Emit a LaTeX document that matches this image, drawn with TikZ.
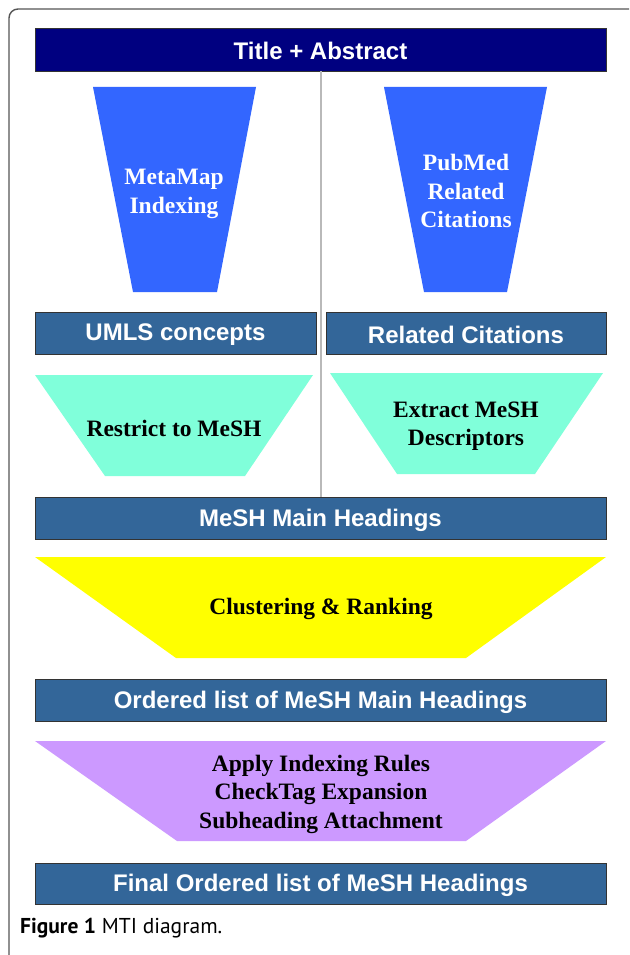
\documentclass[tikz,border=0pt]{standalone}
\usepackage{fontspec}
\newfontfamily\barfont{Liberation Sans}
\newfontfamily\trapfont{Liberation Serif}
\newfontfamily\capfont{PT Sans}
\definecolor{navybar}{RGB}{0,0,128}
\definecolor{steelbar}{RGB}{51,102,153}
\definecolor{trapblue}{RGB}{51,102,255}
\definecolor{aqua}{RGB}{128,255,218}
\definecolor{yel}{RGB}{255,255,0}
\definecolor{lilac}{RGB}{204,153,255}
\definecolor{framegray}{RGB}{85,85,85}
\tikzset{
  barbox/.style={draw=black!80, line width=0.9pt},
  bartext/.style={text=white, font=\barfont\bfseries\fontsize{24}{28}\selectfont, inner sep=0pt},
  traptext/.style={text=black, font=\trapfont\bfseries\fontsize{23.5}{28.5}\selectfont, align=center, inner sep=0pt},
  traptextw/.style={traptext, text=white},
}
\begin{document}
\begin{tikzpicture}[x=1pt,y=-1pt]
\useasboundingbox (0,0) rectangle (629,955);
\fill[white] (0,0) rectangle (629,955);
% outer frame (runs off the page to right and bottom)
\begin{scope}
\clip (0,0) rectangle (629,955);
\draw[framegray, line width=1.4pt, rounded corners=9pt] (9,970) -- (9,9) -- (640,9);
\end{scope}
% title
\fill[navybar, barbox] (35,28) rectangle (606,71);
\node[bartext] (title) at (320.5,51) {Title + Abstract};
% divider
\draw[gray!55, line width=1.1pt] (321,71) -- (321,497);
% blue trapezoids
\fill[trapblue] (93,87) -- (256,87) -- (217,292) -- (133,292) -- cycle;
\node[traptextw] (metamap) at (174,194) {MetaMap\\Indexing};
\fill[trapblue] (384,87) -- (547,87) -- (507,292) -- (424,292) -- cycle;
\node[traptextw] (pubmed) at (466,191) {PubMed\\Related\\Citations};
% second row bars
\fill[steelbar, barbox] (35,312) rectangle (316,354);
\node[bartext] (umls) at (175.5,335) {UMLS concepts};
\fill[steelbar, barbox] (326,312) rectangle (606,354);
\node[bartext] (relcit) at (466,335) {Related Citations};
% aqua trapezoids
\fill[aqua] (35,375) -- (313,375) -- (245,476) -- (105,476) -- cycle;
\node[traptext] (restrict) at (174,428) {Restrict to MeSH};
\fill[aqua] (330,373) -- (603,373) -- (535,474) -- (397,474) -- cycle;
\node[traptext] (extract) at (466,426) {Extract MeSH\\Descriptors};
% MeSH main headings
\fill[steelbar, barbox] (35,497) rectangle (606,539);
\node[bartext] (mmh) at (320.5,520) {MeSH Main Headings};
% yellow
\fill[yel] (35,557) -- (606,557) -- (466,658) -- (176,658) -- cycle;
\node[traptext] (cluster) at (321,609) {Clustering \& Ranking};
% ordered list
\fill[steelbar, barbox] (35,679) rectangle (606,721);
\node[bartext] (ordered) at (320.5,702) {Ordered list of MeSH Main Headings};
% purple
\fill[lilac] (35,741) -- (606,741) -- (466,841) -- (177,841) -- cycle;
\node[traptext] (rules) at (321,794) {Apply Indexing Rules\\CheckTag Expansion\\Subheading Attachment};
% final
\fill[steelbar, barbox] (35,863) rectangle (606,904);
\node[bartext] (final) at (320.5,885.5) {Final Ordered list of MeSH Headings};
% caption
\node[anchor=base west, inner sep=0pt, font=\capfont\fontsize{21.5}{25}\selectfont] (caption) at (20,933) {\textbf{Figure 1} MTI diagram.};
\end{tikzpicture}
\end{document}
